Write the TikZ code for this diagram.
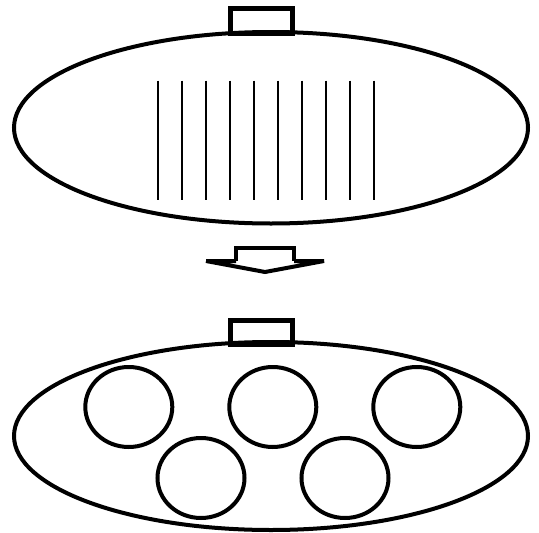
\documentclass[tikz,border=0pt]{standalone}
\begin{document}
\begin{tikzpicture}[x=1pt,y=-1pt,
  outline/.style={draw=black,line width=4pt},
  tabbox/.style={draw=black,line width=5pt,fill=white},
  slit/.style={draw=black,line width=2pt},
  cell/.style={draw=black,line width=4pt}]
\useasboundingbox (0,0) rectangle (539,533);
% top tab and body
\draw[tabbox] (230.5,8.5) rectangle (292.5,33);
\draw[outline] (271,127.75) ellipse [x radius=257, y radius=95.75];
\foreach \i in {0,...,9}{
  \draw[slit] (158.3+24*\i,80.7) -- (158.3+24*\i,200);
}
% arrow
\draw[line width=4pt,line join=miter] (206,261) -- (236,261) (294,261) -- (324,261) -- (265,272) -- (206,261);
\draw[line width=3.5pt] (236,261) -- (236,248) -- (294,248) -- (294,261);
% bottom tab and body
\draw[tabbox] (230.5,320.5) rectangle (292.5,344);
\draw[outline] (271,436) ellipse [x radius=257, y radius=94];
\foreach \cx/\cy in {128.8/407, 272.8/407, 416.8/407, 201/478, 345/478}{
  \draw[cell] (\cx,\cy) ellipse [x radius=43.5, y radius=40];
}
\end{tikzpicture}
\end{document}
